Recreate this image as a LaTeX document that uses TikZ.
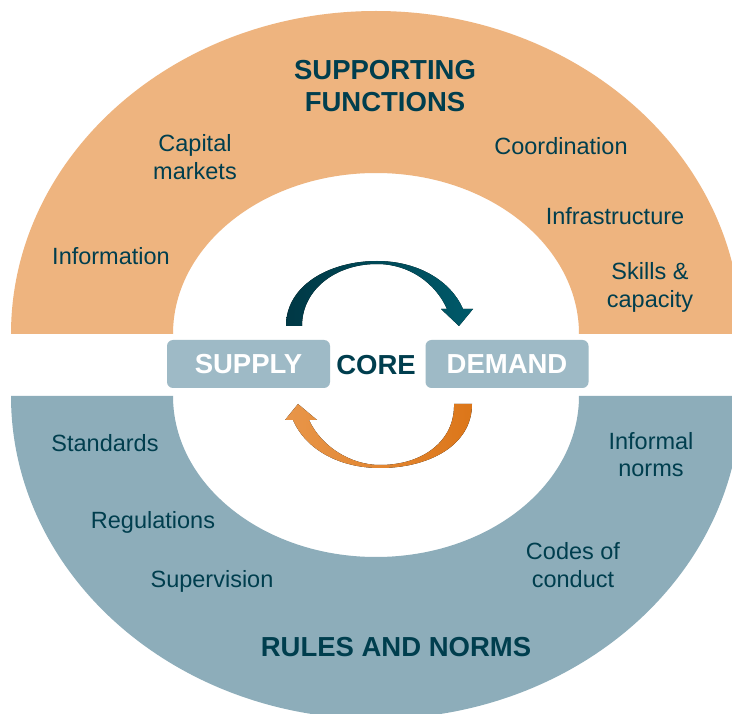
\documentclass[tikz,border=0pt]{standalone}
\usepackage{fontspec}
\setmainfont{Liberation Sans}
\definecolor{sforange}{HTML}{EEB47F}
\definecolor{rnblue}{HTML}{8DADBA}
\definecolor{darkteal}{HTML}{003E4E}
\definecolor{boxblue}{HTML}{9EBAC6}
\definecolor{arrowA}{HTML}{003845}
\definecolor{arrowB}{HTML}{005A6A}
\definecolor{orA}{HTML}{E8964A}
\definecolor{orB}{HTML}{DC7619}
\tikzset{
  lbl/.style={anchor=base, inner sep=0pt, align=center, text=darkteal,
    font=\fontsize{23.5}{28}\selectfont},
  ttl/.style={anchor=base, inner sep=0pt, align=center, text=darkteal,
    font=\fontsize{27.5}{32}\selectfont\bfseries},
  corebox/.style={fill=boxblue, rounded corners=6pt, minimum width=163pt,
    minimum height=48pt, inner sep=0pt, text=white, text height=19.7pt, text depth=0pt,
    font=\fontsize{27.5}{32}\selectfont\bfseries}
}
\begin{document}
\begin{tikzpicture}[x=1pt,y=-1pt]
\clip (0,0) rectangle (732,714);
\fill[white] (0,0) rectangle (732,714);
% supporting functions half ring
\fill[sforange] (11,334) arc[start angle=180,end angle=360,x radius=365,y radius=323]
  -- (579,334) arc[start angle=0,end angle=-180,x radius=203,y radius=161] -- cycle;
% rules and norms half ring
\fill[rnblue] (11,396) arc[start angle=180,end angle=0,x radius=365,y radius=323]
  -- (579,396) arc[start angle=0,end angle=180,x radius=203,y radius=161] -- cycle;
% core
\node[corebox] (supply) at (248.5,364) {SUPPLY};
\node[corebox] (demand) at (507,364) {DEMAND};
\node[ttl] (core) at (376,375) {CORE};
% top arrow supply -> demand
\fill[left color=arrowA, right color=arrowB]
  (286,326) .. controls (286,285) and (330,261) .. (377,261)
  .. controls (418,261) and (451,281) .. (463,309)
  -- (473,309) -- (459,326) -- (441,309) -- (447,309)
  .. controls (436,284) and (410,264) .. (377,264)
  .. controls (335,264) and (302,290) .. (302,326) -- cycle;
% bottom arrow demand -> supply
\fill[left color=orA, right color=orB]
  (472,404) .. controls (472,446) and (428,468) .. (380,468)
  .. controls (340,468) and (306,450) .. (293,420)
  -- (285,420) -- (298,404) -- (317,420) -- (309,420)
  .. controls (321,446) and (350,465) .. (380,465)
  .. controls (424,465) and (455,440) .. (454,404) -- cycle;
% titles (anchor = baseline of last line)
\node[ttl] (sf) at (385,112) {SUPPORTING\\FUNCTIONS};
\node[ttl] (rn) at (396,656) {RULES AND NORMS};
% supporting function labels
\node[lbl] (cap) at (195,180) {Capital\\markets};
\node[lbl] (info) at (111,265) {Information};
\node[lbl] (coord) at (561,155) {Coordination};
\node[lbl] (infra) at (615,225) {Infrastructure};
\node[lbl] (skills) at (650,308) {Skills \&\\capacity};
% rules and norms labels
\node[lbl] (std) at (105,452) {Standards};
\node[lbl] (reg) at (153,528) {Regulations};
\node[lbl] (sup) at (212,587) {Supervision};
\node[lbl] (inf) at (651,477) {Informal\\norms};
\node[lbl] (codes) at (573,587) {Codes of\\conduct};
\end{tikzpicture}
\end{document}
